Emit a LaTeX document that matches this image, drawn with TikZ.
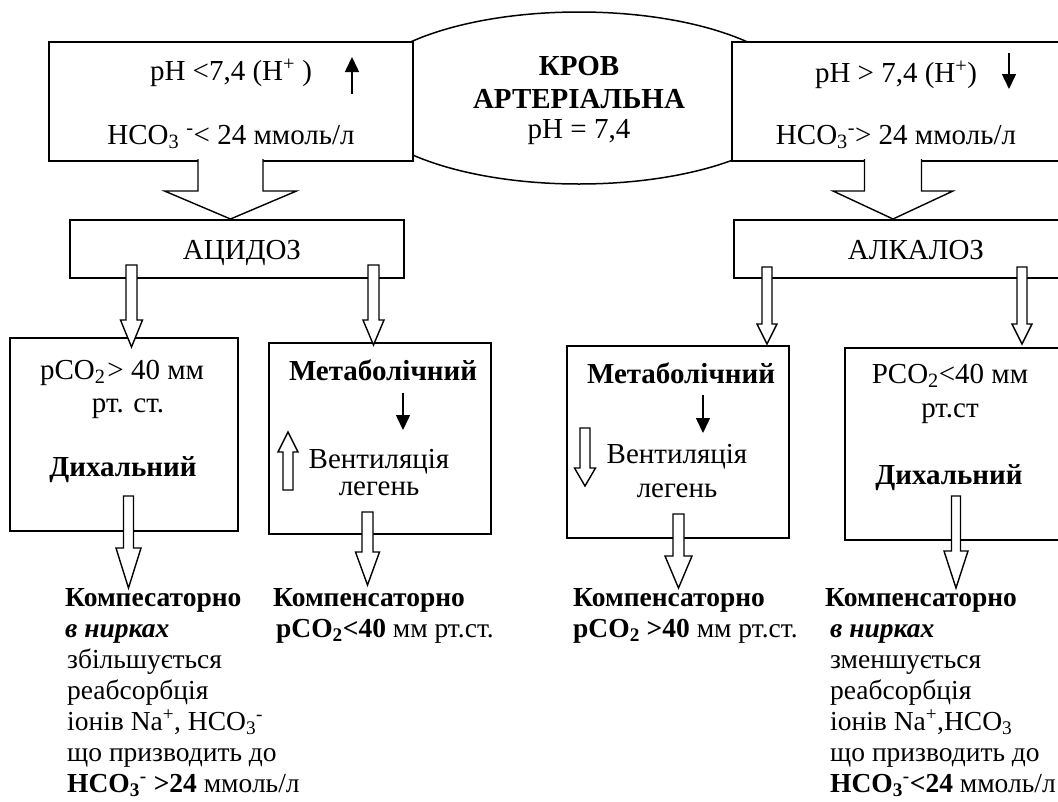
\documentclass[tikz,border=0pt]{standalone}
\usepackage{fontspec}
\setmainfont{Liberation Serif}
\usetikzlibrary{arrows.meta,shapes.geometric}

\tikzset{
  box/.style={draw, line width=1.5pt, fill=white, inner sep=0pt, rectangle},
  oval/.style={draw, line width=1.5pt, fill=white, inner sep=0pt, ellipse},
  fat/.style={draw, line width=1.4pt, fill=white, line join=miter},
  lbl/.style={inner sep=0pt, anchor=base, text height=0.7em, text depth=0.22em,
    font=\fontsize{29}{33}\selectfont},
  lblw/.style={inner sep=0pt, anchor=base west, text height=0.7em, text depth=0.22em,
    font=\fontsize{27.5}{31}\selectfont},
  tick/.style={line width=1.5pt, -{Triangle[length=15pt,width=14pt]}},
}

% block arrow: centre x, top, head base, tip, half shaft width, half head width
\newcommand{\openarrow}[6]{\path[fat] (#1-#5,#2) -- (#1-#5,#3) -- (#1-#6,#3) -- (#1,#4) -- (#1+#6,#3) -- (#1+#5,#3) -- (#1+#5,#2);}
\newcommand{\shutarrow}[6]{\path[fat] (#1-#5,#2) -- (#1-#5,#3) -- (#1-#6,#3) -- (#1,#4) -- (#1+#6,#3) -- (#1+#5,#3) -- (#1+#5,#2) -- cycle;}

\begin{document}
\begin{tikzpicture}[x=1pt,y=-1pt]
\useasboundingbox (0,0) rectangle (1058,801);
\fill[white] (0,0) rectangle (1058,801);
\clip (0,0) rectangle (1058,801);

% arterial blood
\node[oval, minimum width=444pt, minimum height=172pt] (blood) at (579,98) {};

% top boxes
\node[box, minimum width=364pt, minimum height=119pt] (topL) at (231,101.5) {};
\node[box, minimum width=338pt, minimum height=119pt] (topR) at (901,101.5) {};

% wide arrows to acidosis / alkalosis
\openarrow{230.5}{159}{191}{219}{32.5}{66}
\openarrow{893}{159}{191}{219}{28.5}{60}

% acidosis / alkalosis
\node[box, minimum width=334pt, minimum height=58pt] (acid) at (237,249) {};
\node[box, minimum width=336pt, minimum height=58pt] (alk) at (902,249) {};

% lower boxes
\node[box, minimum width=228pt, minimum height=193pt] (respL) at (124,434.5) {};
\node[box, minimum width=222pt, minimum height=191pt] (metL) at (380,438.5) {};
\node[box, minimum width=222pt, minimum height=192pt] (metR) at (678,442) {};
\node[box, minimum width=225pt, minimum height=192pt] (respR) at (957.5,444) {};

% narrow arrows from acidosis / alkalosis
\shutarrow{131.5}{265}{320}{347}{5.5}{11}
\shutarrow{373.5}{265}{320}{345}{5.5}{10.5}
\shutarrow{767}{267}{324}{344}{5}{10}
\shutarrow{1022}{267}{324}{344}{5}{10}

% arrows to compensation
\shutarrow{128.5}{496}{548}{588}{5}{12.5}
\shutarrow{367.5}{512}{552}{585}{5.5}{12}
\shutarrow{678.5}{514}{556}{588}{5.5}{13.5}
\shutarrow{956}{496}{551}{588}{4.5}{12}

% ventilation up / down
\shutarrow{288}{490}{452}{432}{5}{10}
\shutarrow{585}{428}{468}{486}{5}{10.5}

% small black arrows
\draw[tick] (352,94) -- (352,57);
\draw[tick] (1009,53) -- (1009,89);
\draw[tick] (403,393) -- (403,430);
\draw[tick] (703,395) -- (703,433);

% texts of the top boxes
\node[lbl] (tl1) at (231,80) {pH <7,4 (H\textsuperscript{+} )};
\node[lbl] (tl2) at (231,144) {HCO\textsubscript{3} \textsuperscript{-}< 24 ммоль/л};
\node[lbl] (tr1) at (896,82) {pH > 7,4 (H\textsuperscript{+})};
\node[lbl] (tr2) at (896,144) {HCO\textsubscript{3}\textsuperscript{-}> 24 ммоль/л};

\node[lbl] (b1) at (579,75) {\textbf{КРОВ}};
\node[lbl] (b2) at (579,108) {\textbf{АРТЕРІАЛЬНА}};
\node[lbl] (b3) at (579,138) {pH = 7,4};

\node[lbl] (acidt) at (242,259) {АЦИДОЗ};
\node[lbl] (alkt) at (916,259) {АЛКАЛОЗ};

% texts of the lower boxes
\node[lbl] (rl1) at (122,379) {pCO\textsubscript{2}\kern2pt> 40 мм};
\node[lbl] (rl2) at (128,412) {рт. ст.};
\node[lbl] (rl3) at (123,476) {\textbf{Дихальний}};

\node[lbl] (ml1) at (383,380) {\textbf{Метаболічний}};
\node[lbl] (ml2) at (379,468) {Вентиляція};
\node[lbl] (ml3) at (379,495) {легень};

\node[lbl] (mr1) at (681,383) {\textbf{Метаболічний}};
\node[lbl] (mr2) at (677,463) {Вентиляція};
\node[lbl] (mr3) at (677,497) {легень};

\node[lbl] (rr1) at (950,383) {PCO\textsubscript{2}<40 мм};
\node[lbl] (rr2) at (950,417) {рт.ст};
\node[lbl] (rr3) at (949,484) {\textbf{Дихальний}};

% compensation texts
\node[lblw] (c1a) at (65,606) {\textbf{Компесаторно}};
\node[lblw] (c1b) at (65,637) {\textbf{\textit{в нирках}}};
\node[lblw] (c1c) at (67,668) {збільшується};
\node[lblw] (c1d) at (67,699) {реабсорбція};
\node[lblw] (c1e) at (67,730) {іонів Na\textsuperscript{+}, HCO\textsubscript{3}\textsuperscript{-}};
\node[lblw] (c1f) at (67,761) {що призводить до};
\node[lblw] (c1g) at (67,792) {\textbf{HCO\textsubscript{3}\textsuperscript{-} >24} ммоль/л};

\node[lblw] (c2a) at (273,606) {\textbf{Компенсаторно}};
\node[lblw] (c2b) at (276,637) {\textbf{pCO\textsubscript{2}<40} мм рт.ст.};

\node[lblw] (c3a) at (573,606) {\textbf{Компенсаторно}};
\node[lblw] (c3b) at (573,637) {\textbf{pCO\textsubscript{2} >40} мм рт.ст.};

\node[lblw] (c4a) at (825,606) {\textbf{Компенсаторно}};
\node[lblw] (c4b) at (830,637) {\textbf{\textit{в нирках}}};
\node[lblw] (c4c) at (830,668) {зменшується};
\node[lblw] (c4d) at (830,699) {реабсорбція};
\node[lblw] (c4e) at (830,730) {іонів Na\textsuperscript{+},HCO\textsubscript{3}};
\node[lblw] (c4f) at (830,761) {що призводить до};
\node[lblw] (c4g) at (830,792) {\textbf{HCO\textsubscript{3}\textsuperscript{-}<24} ммоль/л};
\end{tikzpicture}
\end{document}
